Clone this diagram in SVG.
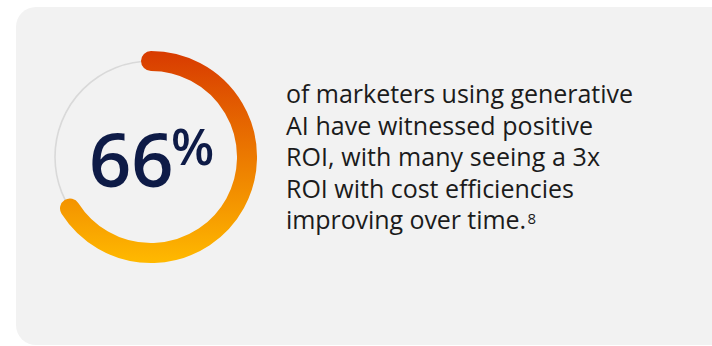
<svg xmlns="http://www.w3.org/2000/svg" width="712" height="346" viewBox="0 0 712 346">
<defs>
<linearGradient id="ringGrad" gradientUnits="userSpaceOnUse" x1="0" y1="51" x2="0" y2="263">
<stop offset="0" stop-color="#D83B01"/>
<stop offset="0.5" stop-color="#EC7A00"/>
<stop offset="1" stop-color="#FFB900"/>
</linearGradient>
<style>
.body{font-family:"Open Sans","Noto Sans","Liberation Sans",sans-serif;font-size:25px;fill:#1b1b1b}
.sup{font-family:"Open Sans","Noto Sans","Liberation Sans",sans-serif;font-size:15px;fill:#1b1b1b}
.big{font-family:"Open Sans","Noto Sans","Liberation Sans",sans-serif;fill:#0E1B47;font-weight:600}
</style>
</defs>
<rect width="712" height="346" fill="#FFFFFF"/>
<g id="card">
<rect x="16" y="7" width="720" height="338" rx="20" ry="20" fill="#F2F2F2"/>
</g>
<g id="gauge">
<circle cx="151" cy="157" r="96" fill="none" stroke="#D9D9D9" stroke-width="1.6"/>
<path d="M151 61 A96 96 0 1 1 70 208.5" fill="none" stroke="url(#ringGrad)" stroke-width="20" stroke-linecap="round"/>
<text class="big" x="89" y="187" font-size="74">66</text>
<text class="big" x="171" y="165" font-size="50" font-weight="400">%</text>
</g>
<g id="label">
<text class="body" x="286" y="103" textLength="347" lengthAdjust="spacing">of marketers using generative</text>
<text class="body" x="286" y="134.5" textLength="307" lengthAdjust="spacing">AI have witnessed positive</text>
<text class="body" x="286" y="166" textLength="314" lengthAdjust="spacing">ROI, with many seeing a 3x</text>
<text class="body" x="286" y="197.5" textLength="288" lengthAdjust="spacing">ROI with cost efficiencies</text>
<text class="body" x="286" y="229" textLength="240" lengthAdjust="spacing">improving over time.</text>
<text class="sup" x="527.5" y="223.5">8</text>
</g>
</svg>
